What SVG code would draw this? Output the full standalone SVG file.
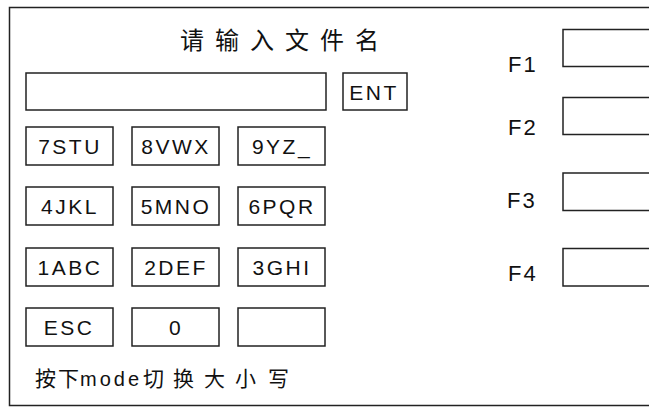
<svg xmlns="http://www.w3.org/2000/svg" width="649" height="407" viewBox="0 0 649 407">
<style>
.b{fill:#fff;stroke:#222;stroke-width:1.5}
.k{font-family:"Liberation Sans",Arial,sans-serif;font-size:21px;fill:#111;letter-spacing:2.5px;text-anchor:middle}
.f{font-family:"Liberation Sans",Arial,sans-serif;font-size:22px;fill:#111;letter-spacing:2px}
.c{font-family:"Noto Sans CJK SC",sans-serif;fill:#111}
</style>
<rect width="649" height="407" fill="#fff"/>
<rect id="frame" class="b" x="9.5" y="7.5" width="700" height="398"/>
<text id="title" class="c" x="180" y="49" font-size="24" letter-spacing="11">请输入文件名</text>
<g id="input"><rect class="b" x="26" y="73" width="300" height="37"/></g>
<g id="ent"><rect class="b" x="343" y="73" width="64" height="37"/><text class="k" x="374" y="100" font-size="22">ENT</text></g>
<g id="k7"><rect class="b" x="26" y="127" width="87" height="38"/><text class="k" x="70" y="154">7STU</text></g>
<g id="k8"><rect class="b" x="132" y="127" width="87" height="38"/><text class="k" x="176" y="154">8VWX</text></g>
<g id="k9"><rect class="b" x="238" y="127" width="87" height="38"/><text class="k" x="282" y="154">9YZ_</text></g>
<g id="k4"><rect class="b" x="26" y="187" width="87" height="38"/><text class="k" x="70" y="214">4JKL</text></g>
<g id="k5"><rect class="b" x="132" y="187" width="87" height="38"/><text class="k" x="176" y="214">5MNO</text></g>
<g id="k6"><rect class="b" x="238" y="187" width="87" height="38"/><text class="k" x="282" y="214">6PQR</text></g>
<g id="k1"><rect class="b" x="26" y="248" width="87" height="38"/><text class="k" x="70" y="275">1ABC</text></g>
<g id="k2"><rect class="b" x="132" y="248" width="87" height="38"/><text class="k" x="176" y="275">2DEF</text></g>
<g id="k3"><rect class="b" x="238" y="248" width="87" height="38"/><text class="k" x="282" y="275">3GHI</text></g>
<g id="kesc"><rect class="b" x="26" y="308" width="87" height="38"/><text class="k" x="69" y="335">ESC</text></g>
<g id="k0"><rect class="b" x="132" y="308" width="87" height="38"/><text class="k" x="176" y="335">0</text></g>
<g id="kblank"><rect class="b" x="238" y="308" width="87" height="38"/></g>
<text id="hint" class="c" y="386" font-size="21"><tspan x="35">按</tspan><tspan x="58">下</tspan><tspan x="80" font-family="Liberation Sans,Arial,sans-serif" font-size="20" letter-spacing="3">mode</tspan><tspan x="143">切</tspan><tspan x="173">换</tspan><tspan x="204">大</tspan><tspan x="235">小</tspan><tspan x="268">写</tspan></text>
<g id="f1"><text class="f" x="508" y="72">F1</text><rect class="b" x="563" y="29.5" width="100" height="37"/></g>
<g id="f2"><text class="f" x="508" y="135">F2</text><rect class="b" x="563" y="97.5" width="100" height="37"/></g>
<g id="f3"><text class="f" x="507" y="208">F3</text><rect class="b" x="563" y="173" width="100" height="37.5"/></g>
<g id="f4"><text class="f" x="508" y="281">F4</text><rect class="b" x="563" y="248.5" width="100" height="37.5"/></g>
<g id="connectors"></g>
</svg>
